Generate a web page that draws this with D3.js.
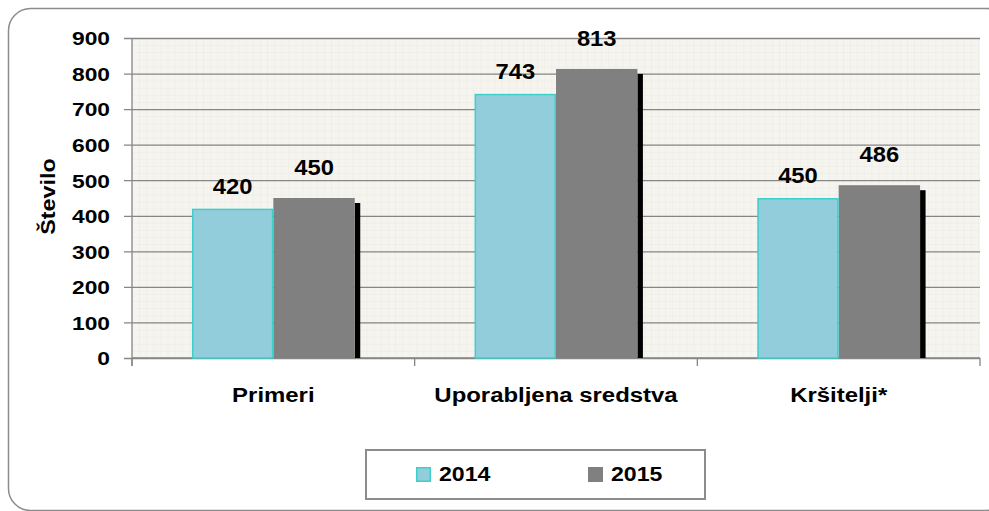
<!DOCTYPE html>
<html><head><meta charset="utf-8">
<script src="https://cdn.jsdelivr.net/npm/d3@7"></script>
<style>
body{margin:0;background:#fff}
svg{display:block}
text{font-family:"Liberation Sans",Arial,Helvetica,sans-serif;font-weight:bold;fill:#000}
</style></head>
<body>
<script>
const categories = ["Primeri", "Uporabljena sredstva", "Kršitelji*"];
const seriesNames = ["2014", "2015"];
const values2014 = [420, 743, 450];
const values2015 = [450, 813, 486];
const yTicks = [0, 100, 200, 300, 400, 500, 600, 700, 800, 900];
const yTitle = "Število";

const W = 989, H = 511;
const plot = {left: 132, right: 980, top: 38, bottom: 358};

const svg = d3.select("body").append("svg").attr("width", W).attr("height", H);

// outer rounded frame
svg.append("rect").attr("x", 8.5).attr("y", 8.5).attr("width", 1000).attr("height", 502)
  .attr("rx", 22).attr("ry", 22).attr("fill", "#fff").attr("stroke", "#8c8c8c").attr("stroke-width", 1.5);

// minor grid pattern
const defs = svg.append("defs");
const pat = defs.append("pattern").attr("id", "minor").attr("patternUnits", "userSpaceOnUse")
  .attr("x", plot.left).attr("y", plot.top).attr("width", 7.11).attr("height", 7.11);
pat.append("rect").attr("width", 7.11).attr("height", 7.11).attr("fill", "#f6f4ef");
pat.append("path").attr("d", "M0,0.3H7.11M0.3,0V7.11").attr("stroke", "#ebe9e3").attr("stroke-width", 0.6);

svg.append("rect").attr("x", plot.left).attr("y", plot.top)
  .attr("width", plot.right - plot.left).attr("height", plot.bottom - plot.top).attr("fill", "url(#minor)");

const y = d3.scaleLinear().domain([0, 900]).range([plot.bottom, plot.top]);
const x0 = d3.scaleBand().domain(categories).range([plot.left, plot.right]).padding(0);
const bw = x0.bandwidth();
const x1 = d3.scaleBand().domain(seriesNames).range([0.212 * bw, 0.788 * bw]).padding(0);

// y axis with gridlines
const tsx = 1.2;
const yAxis = d3.axisLeft(y).tickValues(yTicks).tickSize(-(plot.right - 124)).tickPadding(14);
const gy = svg.append("g").attr("transform", "translate(124,0)").call(yAxis);
gy.select(".domain").remove();
gy.selectAll(".tick line").attr("stroke", "#868686").attr("stroke-width", 1.3);
gy.selectAll(".tick text").attr("font-size", 19).attr("font-family", null)
  .attr("x", -14 / tsx).attr("transform", `scale(${tsx},1)`).attr("dy", "0.36em");

// y axis line
svg.append("line").attr("x1", plot.left).attr("x2", plot.left).attr("y1", plot.top).attr("y2", plot.bottom + 8)
  .attr("stroke", "#868686").attr("stroke-width", 1.3);
// x baseline
svg.append("line").attr("x1", plot.left).attr("x2", plot.right).attr("y1", plot.bottom).attr("y2", plot.bottom)
  .attr("stroke", "#868686").attr("stroke-width", 1.3);
// x category ticks
const bounds = categories.map(c => x0(c)).concat([x0(categories[categories.length - 1]) + bw]);
svg.selectAll(".xt").data(bounds).enter().append("line")
  .attr("x1", d => d).attr("x2", d => d).attr("y1", plot.bottom).attr("y2", plot.bottom + 8)
  .attr("stroke", "#868686").attr("stroke-width", 1.3);

// bars
const data = categories.map((c, i) => ({cat: c, v: [values2014[i], values2015[i]]}));
const groups = svg.selectAll(".grp").data(data).enter().append("g")
  .attr("transform", d => `translate(${x0(d.cat)},0)`);

const b1 = x1.bandwidth();
// shadow for 2015 bars
groups.append("rect")
  .attr("x", x1("2015") + b1).attr("width", 5.5)
  .attr("y", d => y(d.v[1]) + 5).attr("height", d => plot.bottom - y(d.v[1]) - 5)
  .attr("fill", "#000");
// 2015 bars
groups.append("rect")
  .attr("x", x1("2015")).attr("width", b1)
  .attr("y", d => y(d.v[1])).attr("height", d => plot.bottom - y(d.v[1]))
  .attr("fill", "#808080");
// 2014 bars
groups.append("rect")
  .attr("x", x1("2014") + 0.75).attr("width", b1 - 1.5)
  .attr("y", d => y(d.v[0]) + 0.75).attr("height", d => plot.bottom - y(d.v[0]) - 0.75)
  .attr("fill", "#92cddc").attr("stroke", "#3ccfcb").attr("stroke-width", 1.5);

// helper for stretched text
function sText(parent, x, yy, txt, size, sx, anchor, rot) {
  const g = parent.append("g").attr("transform", `translate(${x},${yy})` + (rot ? ` rotate(${rot})` : ""));
  return g.append("text").attr("transform", `scale(${sx},1)`).attr("text-anchor", anchor || "middle")
    .attr("font-size", size).text(txt);
}

// value labels
const labelOff = [15, 23];
data.forEach(d => {
  seriesNames.forEach((s, j) => {
    sText(svg, x0(d.cat) + x1(s) + b1 / 2, y(d.v[j]) - labelOff[j], d.v[j], 22, 1.08, "middle");
  });
});

// category labels
categories.forEach(c => sText(svg, x0(c) + bw / 2, 402, c, 21, 1.14, "middle"));

// y title
sText(svg, 55, 196.5, yTitle, 20, 1.17, "middle", -90);

// legend
const lg = svg.append("g");
lg.append("rect").attr("x", 366).attr("y", 450).attr("width", 339).attr("height", 49)
  .attr("fill", "#fff").attr("stroke", "#8c8c8c").attr("stroke-width", 2);
const legendItems = [
  {name: seriesNames[0], sx: 416, tx: 439, fill: "#92cddc", stroke: "#3ccfcb"},
  {name: seriesNames[1], sx: 588, tx: 611, fill: "#808080", stroke: null}
];
legendItems.forEach(it => {
  const r = lg.append("rect").attr("x", it.sx + 0.75).attr("y", 467.75).attr("width", 13.5).attr("height", 13.5)
    .attr("fill", it.fill);
  if (it.stroke) r.attr("stroke", it.stroke).attr("stroke-width", 1.5);
  else r.attr("x", it.sx).attr("y", 467).attr("width", 15).attr("height", 15);
  sText(lg, it.tx, 481, it.name, 21, 1.1, "start");
});
</script>
</body></html>
